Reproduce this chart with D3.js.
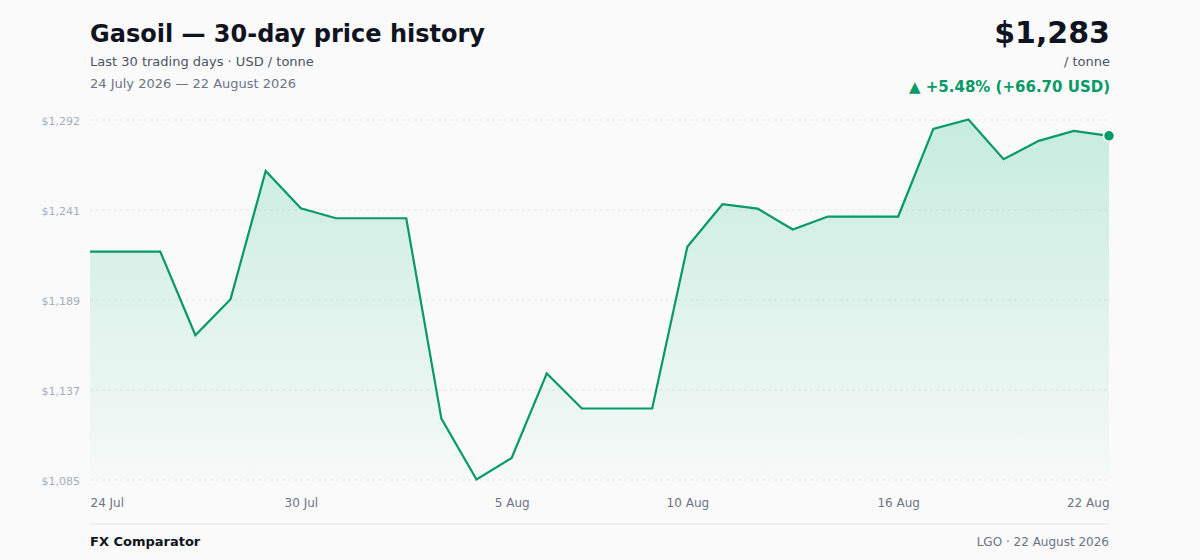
<!DOCTYPE html>
<html>
<head>
<meta charset="utf-8">
<script src="https://cdn.jsdelivr.net/npm/d3@7/dist/d3.min.js"></script>
<style>
  html, body { margin: 0; padding: 0; background: #fafafa; }
  svg { display: block; font-family: "DejaVu Sans", sans-serif; }
</style>
</head>
<body>
<svg id="chart" width="1200" height="560"></svg>
<script>
// ---- data ----
const dates = [
  "2026-07-24","2026-07-25","2026-07-26","2026-07-27","2026-07-28","2026-07-29",
  "2026-07-30","2026-07-31","2026-08-01","2026-08-02","2026-08-03","2026-08-04",
  "2026-08-05","2026-08-06","2026-08-07","2026-08-08","2026-08-09","2026-08-10",
  "2026-08-11","2026-08-12","2026-08-13","2026-08-14","2026-08-15","2026-08-16",
  "2026-08-17","2026-08-18","2026-08-19","2026-08-20","2026-08-21","2026-08-22"
];
const prices = [
  1216.3, 1216.3, 1216.3, 1168.1, 1188.9, 1262.8,
  1241.3, 1235.5, 1235.5, 1235.5, 1120.1, 1085.0,
  1097.4, 1146.1, 1125.9, 1125.9, 1125.9, 1219.1,
  1243.6, 1241.1, 1229.0, 1236.5, 1236.5, 1236.5,
  1287.0, 1292.4, 1269.5, 1280.1, 1285.8, 1283.0
];
const yTickLabels = ["$1,085", "$1,137", "$1,189", "$1,241", "$1,292"];
const xTickLabels = ["24 Jul", "30 Jul", "5 Aug", "10 Aug", "16 Aug", "22 Aug"];
const xTickDates = ["2026-07-24", "2026-07-30", "2026-08-05", "2026-08-10", "2026-08-16", "2026-08-22"];

(function () {
// ---- layout ----
const svg = d3.select("#chart");
const pLeft = 90, pRight = 1109, pTop = 119.5, pBottom = 479.5;
const green = "#079966";
const fillGreen = "#10b981";

const parse = d3.utcParse("%Y-%m-%d");
const data = dates.map((d, i) => ({ date: parse(d), value: prices[i] }));

const x = d3.scaleUtc()
  .domain(d3.extent(data, d => d.date))
  .range([pLeft, pRight]);
const yMin = d3.min(prices), yMax = d3.max(prices);
const y = d3.scaleLinear().domain([yMin, yMax]).range([pBottom, pTop]);

svg.append("rect").attr("width", 1200).attr("height", 560).attr("fill", "#fafafa");

// gradient
const defs = svg.append("defs");
const grad = defs.append("linearGradient")
  .attr("id", "areaGrad")
  .attr("gradientUnits", "userSpaceOnUse")
  .attr("x1", 0).attr("x2", 0).attr("y1", pTop).attr("y2", pBottom);
grad.append("stop").attr("offset", "0%").attr("stop-color", fillGreen).attr("stop-opacity", 0.22);
grad.append("stop").attr("offset", "100%").attr("stop-color", fillGreen).attr("stop-opacity", 0.02);

// y grid + labels
const yTickVals = d3.range(yTickLabels.length).map(i => yMin + i * (yMax - yMin) / (yTickLabels.length - 1));
const yAxis = d3.axisLeft(y)
  .tickValues(yTickVals)
  .tickFormat((d, i) => yTickLabels[i])
  .tickSize(-(pRight - pLeft))
  .tickPadding(10);
const gy = svg.append("g").attr("transform", `translate(${pLeft},0)`).call(yAxis);
gy.select(".domain").remove();
gy.selectAll(".tick line")
  .attr("stroke", "#e3e6ea")
  .attr("stroke-dasharray", "3,3")
  .attr("stroke-width", 1);
gy.selectAll(".tick text")
  .attr("fill", "#a3adbf")
  .attr("font-size", 11)
  .attr("dy", "0.42em")
  .attr("font-family", "DejaVu Sans, sans-serif");

// area + line
const area = d3.area()
  .x(d => x(d.date))
  .y0(pBottom)
  .y1(d => y(d.value));
svg.append("path").datum(data).attr("d", area).attr("fill", "url(#areaGrad)");

const line = d3.line().x(d => x(d.date)).y(d => y(d.value));
svg.append("path").datum(data).attr("d", line)
  .attr("fill", "none").attr("stroke", green).attr("stroke-width", 2.2)
  .attr("stroke-linejoin", "miter");

const last = data[data.length - 1];
svg.append("circle")
  .attr("cx", x(last.date)).attr("cy", y(last.value)).attr("r", 5.5)
  .attr("fill", green).attr("stroke", "#ffffff").attr("stroke-width", 1.5);

// x axis labels
const xAxis = d3.axisBottom(x)
  .tickValues(xTickDates.map(parse))
  .tickFormat((d, i) => xTickLabels[i])
  .tickSize(0)
  .tickPadding(19);
const gx = svg.append("g").attr("transform", `translate(0,${pBottom})`).call(xAxis);
gx.select(".domain").remove();
gx.selectAll(".tick text")
  .attr("fill", "#6b7385")
  .attr("font-size", 12)
  .attr("font-family", "DejaVu Sans, sans-serif")
  .attr("text-anchor", (d, i, n) => i === 0 ? "start" : (i === n.length - 1 ? "end" : "middle"));

// header
svg.append("text").attr("x", 90).attr("y", 42)
  .attr("font-size", 24).attr("font-weight", "bold").attr("fill", "#0f1420")
  .text("Gasoil — 30-day price history");
svg.append("text").attr("x", 90).attr("y", 66)
  .attr("font-size", 13).attr("fill", "#4b5262")
  .text("Last 30 trading days · USD / tonne");
svg.append("text").attr("x", 90).attr("y", 88)
  .attr("font-size", 13).attr("fill", "#6b7385")
  .text("24 July 2026 — 22 August 2026");

const first = data[0];
const change = last.value - first.value;
const pct = change / first.value * 100;
svg.append("text").attr("x", 1110).attr("y", 43).attr("text-anchor", "end")
  .attr("font-size", 30).attr("font-weight", "bold").attr("fill", "#0f1420")
  .text("$" + d3.format(",.0f")(last.value));
svg.append("text").attr("x", 1110).attr("y", 66).attr("text-anchor", "end")
  .attr("font-size", 13).attr("fill", "#4b5262")
  .text("/ tonne");
svg.append("text").attr("x", 1110).attr("y", 92).attr("text-anchor", "end")
  .attr("font-size", 15).attr("font-weight", "bold").attr("fill", green)
  .text(`▲ +${pct.toFixed(2)}% (+${change.toFixed(2)} USD)`);

// footer
svg.append("line").attr("x1", 90).attr("x2", 1109).attr("y1", 524).attr("y2", 524)
  .attr("stroke", "#e6e8ec").attr("stroke-width", 1);
svg.append("text").attr("x", 90).attr("y", 546)
  .attr("font-size", 13).attr("font-weight", "bold").attr("fill", "#0f1420")
  .text("FX Comparator");
svg.append("text").attr("x", 1109).attr("y", 546).attr("text-anchor", "end")
  .attr("font-size", 12).attr("fill", "#6b7385")
  .text("LGO · 22 August 2026");
})();
</script>
</body>
</html>
